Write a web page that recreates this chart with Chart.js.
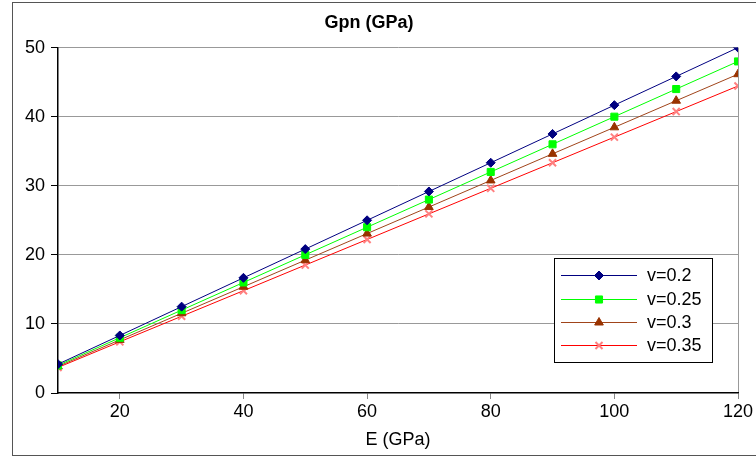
<!DOCTYPE html>
<html>
<head>
<meta charset="utf-8">
<script src="https://cdn.jsdelivr.net/npm/chart.js@4"></script>
<style>
  body { margin: 0; background: #fff; }
  canvas { display: block; }
</style>
</head>
<body>
<canvas id="myChart" width="756" height="459"></canvas>
<script>
// E values (GPa) and Gpn for each Poisson ratio
let eValues = [10, 20, 30, 40, 50, 60, 70, 80, 90, 100, 110, 120];
let g020 = [4.17, 8.33, 12.5, 16.67, 20.83, 25, 29.17, 33.33, 37.5, 41.67, 45.83, 50];
let g025 = [4, 8, 12, 16, 20, 24, 28, 32, 36, 40, 44, 48];
let g030 = [3.85, 7.69, 11.54, 15.38, 19.23, 23.08, 26.92, 30.77, 34.62, 38.46, 42.31, 46.15];
let g035 = [3.7, 7.41, 11.11, 14.81, 18.52, 22.22, 25.93, 29.63, 33.33, 37.04, 40.74, 44.44];
let seriesLabels = ['v=0.2', 'v=0.25', 'v=0.3', 'v=0.35'];

const FONT = "'Liberation Sans', Arial, sans-serif";

function pts(ys) {
    return eValues.map((x, i) => ({x: x, y: ys[i]}));
}

// white background + outer frame
const frame = {
    id: 'frame',
    beforeDraw(chart) {
        const c = chart.ctx;
        c.save();
        c.fillStyle = '#fff';
        c.fillRect(0, 0, chart.width, chart.height);
        c.strokeStyle = '#555';
        c.lineWidth = 1;
        c.strokeRect(12.5, 2.5, 800, 453);
        c.restore();
    }
};

// legend box inside the plot, like the excel one
const boxLegend = {
    id: 'boxLegend',
    afterDraw(chart) {
        const c = chart.ctx;
        c.save();
        c.fillStyle = '#fff';
        c.fillRect(554.5, 258.5, 158, 104);
        c.strokeStyle = '#000';
        c.lineWidth = 1;
        c.strokeRect(554.5, 258.5, 158, 104);
        const rows = [275, 299, 322, 345];
        chart.data.datasets.forEach((ds, i) => {
            const y = rows[i];
            c.save();
            c.strokeStyle = ds.borderColor;
            c.lineWidth = 1.2;
            c.beginPath();
            c.moveTo(561, y + 0.5);
            c.lineTo(637, y + 0.5);
            c.stroke();
            c.restore();
            c.fillStyle = ds.pointBackgroundColor;
            c.strokeStyle = ds.pointBorderColor;
            c.lineWidth = ds.pointBorderWidth;
            Chart.helpers.drawPoint(c, {
                pointStyle: ds.pointStyle,
                radius: ds.pointRadius,
                rotation: 0,
                borderWidth: ds.pointBorderWidth
            }, 599, y + 0.5);
            c.fillStyle = '#000';
            c.font = '18px ' + FONT;
            c.textBaseline = 'middle';
            c.textAlign = 'left';
            c.fillText(ds.label, 647, y + 1);
        });
        c.restore();
    }
};

let ctx = document.getElementById('myChart').getContext('2d');
let chart = new Chart(ctx, {
    type: 'line',
    data: {
        datasets: [{
            label: seriesLabels[0],
            data: pts(g020),
            borderColor: '#000080',
            pointBackgroundColor: '#000080',
            pointBorderColor: '#000080',
            pointStyle: 'rectRot',
            pointRadius: 4.5,
            pointBorderWidth: 1
        }, {
            label: seriesLabels[1],
            data: pts(g025),
            borderColor: '#00ff00',
            pointBackgroundColor: '#00ff00',
            pointBorderColor: '#00ff00',
            pointStyle: 'rect',
            pointRadius: 5,
            pointBorderWidth: 1
        }, {
            label: seriesLabels[2],
            data: pts(g030),
            borderColor: '#a0441a',
            pointBackgroundColor: '#993300',
            pointBorderColor: '#993300',
            pointStyle: 'triangle',
            pointRadius: 5,
            pointBorderWidth: 1
        }, {
            label: seriesLabels[3],
            data: pts(g035),
            borderColor: '#ff0000',
            pointBackgroundColor: '#ff8080',
            pointBorderColor: '#ff8080',
            pointStyle: 'crossRot',
            pointRadius: 5,
            pointBorderWidth: 2
        }]
    },
    options: {
        responsive: false,
        animation: false,
        devicePixelRatio: 1,
        layout: { padding: { left: 0, right: 18, top: 0, bottom: 0 } },
        elements: { line: { borderWidth: 1, tension: 0 } },
        plugins: {
            legend: { display: false },
            tooltip: { enabled: false },
            title: {
                display: true,
                text: 'Gpn (GPa)',
                color: '#000',
                font: { family: FONT, size: 18, weight: 'bold' },
                padding: { top: 12, bottom: 14 }
            }
        },
        scales: {
            x: {
                type: 'linear',
                min: 10,
                max: 120,
                afterFit(s) { s.height = 66; },
                afterBuildTicks(s) { s.ticks = s.ticks.filter(t => t.value >= 20); },
                ticks: {
                    stepSize: 20,
                    color: '#000',
                    padding: 2,
                    font: { family: FONT, size: 18 }
                },
                grid: {
                    color: c => (c.tick && c.tick.value === 120) ? '#999' : 'rgba(0,0,0,0)',
                    tickColor: '#888',
                    tickLength: 6
                },
                border: { color: '#000', width: 1.5 },
                title: {
                    display: true,
                    text: 'E (GPa)',
                    color: '#000',
                    font: { family: FONT, size: 18 },
                    padding: { top: 4, bottom: 8 }
                }
            },
            y: {
                min: 0,
                max: 50,
                afterFit(s) { s.width = 58; },
                ticks: {
                    stepSize: 10,
                    color: '#000',
                    padding: 6,
                    font: { family: FONT, size: 18 }
                },
                grid: {
                    color: c => (c.tick && c.tick.value === 0) ? 'rgba(0,0,0,0)' : '#999',
                    tickColor: '#000',
                    tickLength: 7
                },
                border: { color: '#000', width: 1.5 }
            }
        }
    },
    plugins: [frame, boxLegend]
});
</script>
</body>
</html>
